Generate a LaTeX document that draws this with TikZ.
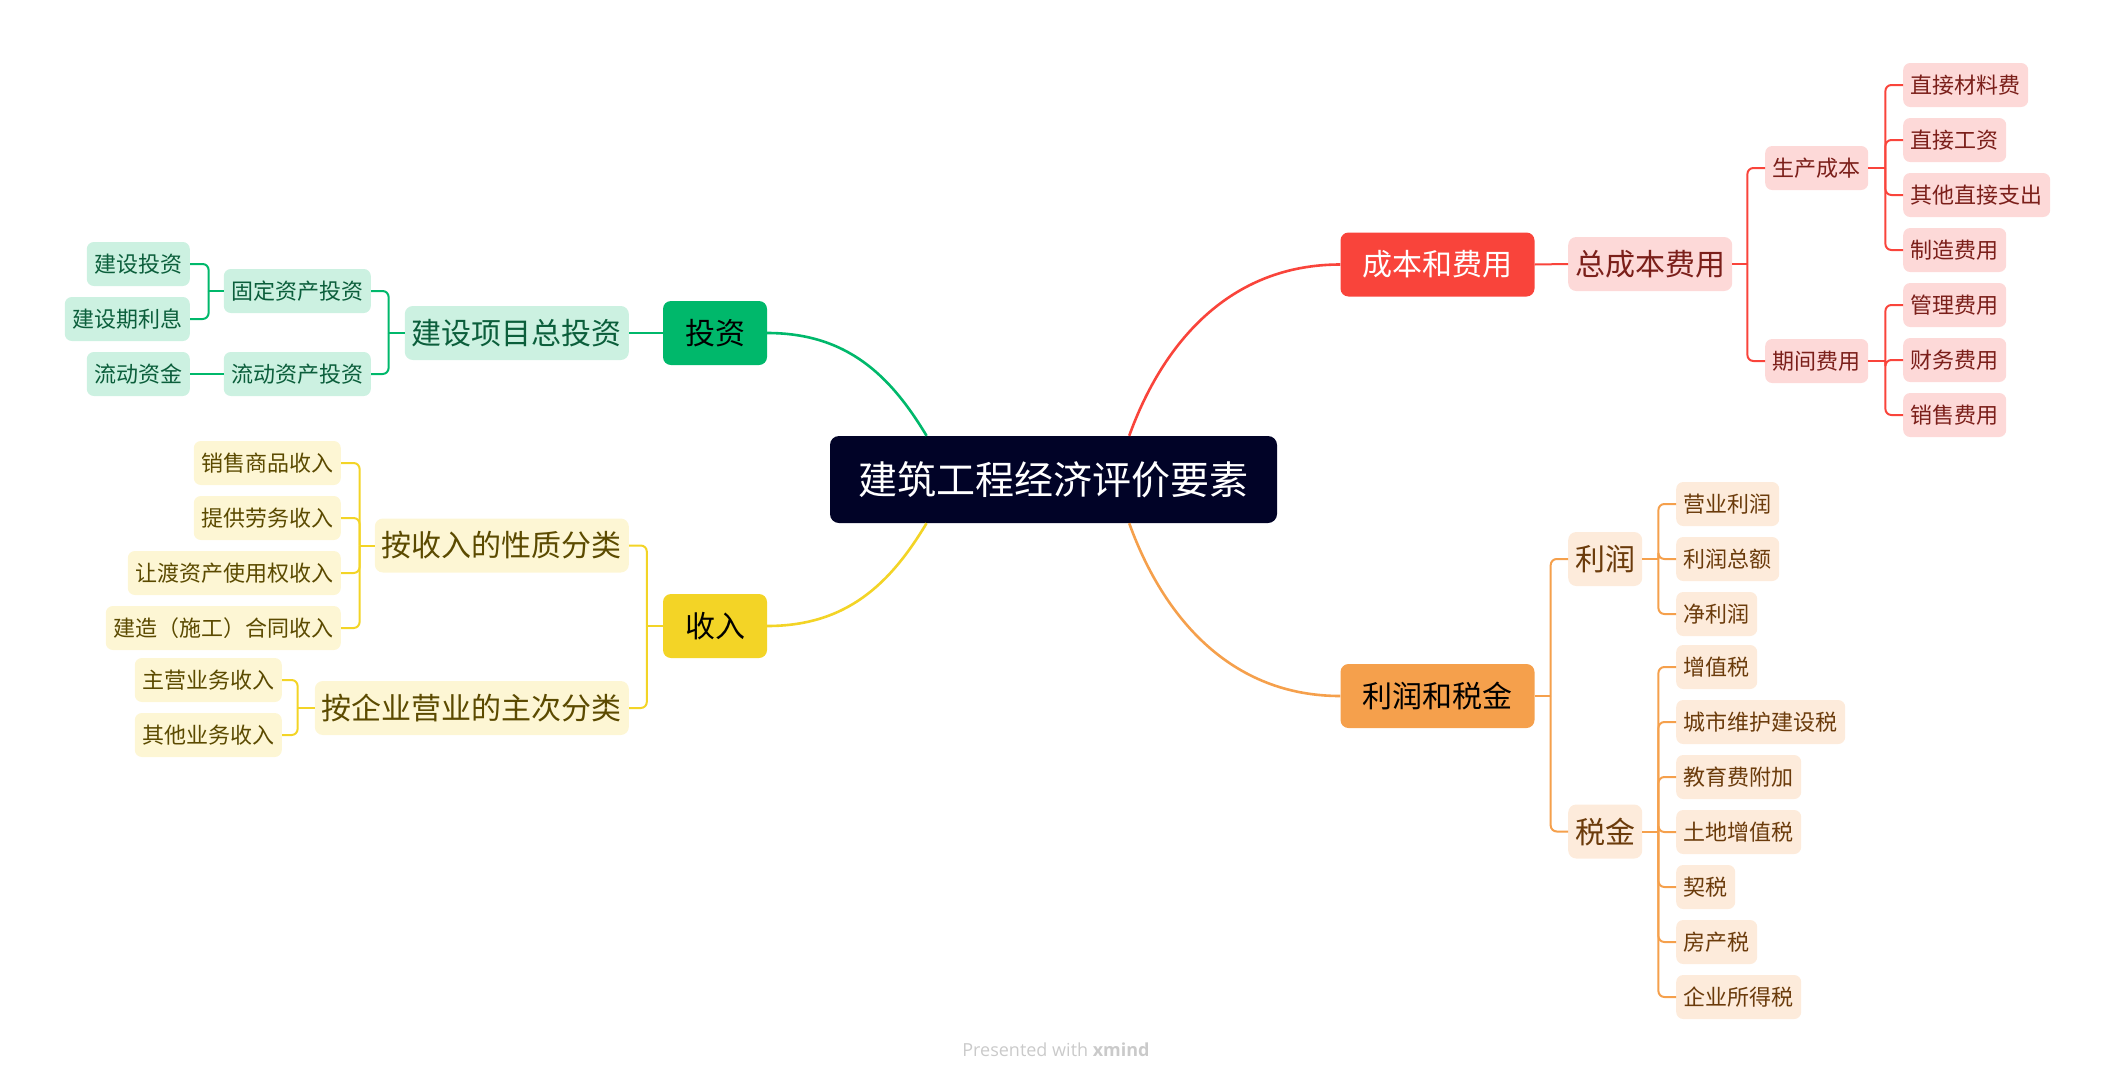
\documentclass[tikz,border=0pt]{standalone}
\usepackage{fontspec}
\usepackage{xcolor}
\setmainfont{Noto Sans CJK SC}
\newfontfamily\footfont{Open Sans}

\definecolor{rootbg}{HTML}{010327}
\definecolor{grn}{HTML}{00B86B}
\definecolor{grnlt}{HTML}{CCF1E1}
\definecolor{grntx}{HTML}{0B5E3B}
\definecolor{ylw}{HTML}{F3D426}
\definecolor{ylwlt}{HTML}{FDF6D4}
\definecolor{ylwtx}{HTML}{5B4A00}
\definecolor{rd}{HTML}{F9443B}
\definecolor{rdlt}{HTML}{FDD9D8}
\definecolor{rdtx}{HTML}{7B1F1A}
\definecolor{org}{HTML}{F5A04C}
\definecolor{orglt}{HTML}{FDEBDB}
\definecolor{orgtx}{HTML}{6B3B0B}
\definecolor{foot}{HTML}{CACACA}

\begin{document}
\begin{tikzpicture}[
        x=1pt, y=-1pt, % one unit = one pixel of the map, y runs down
        % --- Box sizes per level ---
        rootbox/.style={fill=rootbg, text=white, minimum width=447pt,
            minimum height=87pt, inner ysep=0pt, rounded corners=9pt,
            font=\fontsize{39}{47}\selectfont},
        topbox/.style={minimum height=64pt, inner xsep=22pt, inner ysep=0pt,
            rounded corners=8pt, font=\fontsize{30}{36}\selectfont},
        midbox/.style={minimum height=54pt, inner xsep=7pt, inner ysep=0pt,
            rounded corners=8pt, font=\fontsize{30}{36}\selectfont},
        leafbox/.style={minimum height=44pt, inner xsep=7.5pt, inner ysep=0pt,
            rounded corners=7pt, font=\fontsize{22}{26}\selectfont},
        % --- Colours per branch ---
        gsub/.style={fill=grnlt, text=grntx},
        ysub/.style={fill=ylwlt, text=ylwtx},
        rsub/.style={fill=rdlt, text=rdtx},
        osub/.style={fill=orglt, text=orgtx},
        trunk/.style={line width=2.6pt},
        gline/.style={draw=grn, line width=2pt, rounded corners=6pt},
        yline/.style={draw=ylw, line width=2pt, rounded corners=6pt},
        rline/.style={draw=rd, line width=2pt, rounded corners=6pt},
        oline/.style={draw=org, line width=2pt, rounded corners=6pt}
    ]
    \useasboundingbox (0,0) rectangle (2115,1082);

    % ==================== 1. CENTRAL AND MAIN TOPICS ====================
    \node[rootbox] (root) at (1053.5,479.5) {建筑工程经济评价要素};

    \node[topbox, fill=grn]             (touzi)    at (715,333)    {投资};
    \node[topbox, fill=ylw]             (shouru)   at (715,626)    {收入};
    \node[topbox, fill=rd, text=white]  (chengben) at (1437.5,264.5) {成本和费用};
    \node[topbox, fill=org]             (lirunsj)  at (1437.5,696) {利润和税金};

    % ==================== 2. INVESTMENT (LEFT, TOP) ====================
    \node[midbox, gsub, anchor=east]  (jszt) at (629,333) {建设项目总投资};
    \node[leafbox, gsub, anchor=east] (gdzc) at (371,291) {固定资产投资};
    \node[leafbox, gsub, anchor=east] (ldzc) at (371,374) {流动资产投资};
    \node[leafbox, gsub, anchor=east] (jstz) at (190,264) {建设投资};
    \node[leafbox, gsub, anchor=east] (jsql) at (190,319) {建设期利息};
    \node[leafbox, gsub, anchor=east] (ldzj) at (190,374) {流动资金};

    % ==================== 3. INCOME (LEFT, BOTTOM) ====================
    \node[midbox, ysub, anchor=east]  (xzfl) at (629,545.5) {按收入的性质分类};
    \node[midbox, ysub, anchor=east]  (zcfl) at (629,708)   {按企业营业的主次分类};
    \node[leafbox, ysub, anchor=east] (xssp) at (341,463) {销售商品收入};
    \node[leafbox, ysub, anchor=east] (tglw) at (341,518) {提供劳务收入};
    \node[leafbox, ysub, anchor=east] (rdzc) at (341,573) {让渡资产使用权收入};
    \node[leafbox, ysub, anchor=east] (jzht) at (341,628) {建造（施工）合同收入};
    \node[leafbox, ysub, anchor=east] (zyyw) at (282,680) {主营业务收入};
    \node[leafbox, ysub, anchor=east] (qtyw) at (282,735) {其他业务收入};

    % ==================== 4. COSTS (RIGHT, TOP) ====================
    \node[midbox, rsub, anchor=west]  (zcbfy) at (1568,264) {总成本费用};
    \node[leafbox, rsub, anchor=west] (sccb)  at (1765,168) {生产成本};
    \node[leafbox, rsub, anchor=west] (qjfy)  at (1765,361) {期间费用};
    \node[leafbox, rsub, anchor=west] (zjcl)  at (1903,85)  {直接材料费};
    \node[leafbox, rsub, anchor=west] (zjgz)  at (1903,140) {直接工资};
    \node[leafbox, rsub, anchor=west] (qtzc)  at (1903,195) {其他直接支出};
    \node[leafbox, rsub, anchor=west] (zzfy)  at (1903,250) {制造费用};
    \node[leafbox, rsub, anchor=west] (glfy)  at (1903,305) {管理费用};
    \node[leafbox, rsub, anchor=west] (cwfy)  at (1903,360) {财务费用};
    \node[leafbox, rsub, anchor=west] (xsfy)  at (1903,415) {销售费用};

    % ==================== 5. PROFIT AND TAX (RIGHT, BOTTOM) ====================
    \node[midbox, osub, anchor=west]  (lr)   at (1568,559)   {利润};
    \node[midbox, osub, anchor=west]  (sj)   at (1568,831.5) {税金};
    \node[leafbox, osub, anchor=west] (yylr) at (1676,504) {营业利润};
    \node[leafbox, osub, anchor=west] (lrze) at (1676,559) {利润总额};
    \node[leafbox, osub, anchor=west] (jlr)  at (1676,614) {净利润};
    \node[leafbox, osub, anchor=west] (zzs)  at (1676,667) {增值税};
    \node[leafbox, osub, anchor=west] (cswh) at (1676,722) {城市维护建设税};
    \node[leafbox, osub, anchor=west] (jyfj) at (1676,777) {教育费附加};
    \node[leafbox, osub, anchor=west] (tdzz) at (1676,832) {土地增值税};
    \node[leafbox, osub, anchor=west] (qs)   at (1676,887) {契税};
    \node[leafbox, osub, anchor=west] (fcs)  at (1676,942) {房产税};
    \node[leafbox, osub, anchor=west] (qysd) at (1676,997) {企业所得税};

    % ==================== 6. CONNECTORS ====================
    % Curved trunks out of the central topic
    \draw[trunk, grn] (root.161) .. controls +(-36,-60) and +(80,0) .. (touzi.east);
    \draw[trunk, ylw] (root.199) .. controls +(-36,60) and +(80,0) .. (shouru.east);
    \draw[trunk, rd]  (root.30)  .. controls +(34,-94) and +(-110,0) .. (chengben.west);
    \draw[trunk, org] (root.-30) .. controls +(34,94) and +(-110,0) .. (lirunsj.west);

    % Brackets, left side
    \draw[gline] (touzi.west) -- (jszt.east);
    \draw[gline] (jszt.west) -- ++(-16,0) coordinate (jszt-s);
    \foreach \c in {gdzc,ldzc} \draw[gline] (jszt-s) |- (\c.east);
    \draw[gline] (gdzc.west) -- ++(-15,0) coordinate (gdzc-s);
    \foreach \c in {jstz,jsql} \draw[gline] (gdzc-s) |- (\c.east);
    \draw[gline] (ldzc.west) -- (ldzj.east);

    \draw[yline] (shouru.west) -- ++(-16,0) coordinate (shouru-s);
    \foreach \c in {xzfl,zcfl} \draw[yline] (shouru-s) |- (\c.east);
    \draw[yline] (xzfl.west) -- ++(-15,0) coordinate (xzfl-s);
    \foreach \c in {xssp,tglw,rdzc,jzht} \draw[yline] (xzfl-s) |- (\c.east);
    \draw[yline] (zcfl.west) -- ++(-17,0) coordinate (zcfl-s);
    \foreach \c in {zyyw,qtyw} \draw[yline] (zcfl-s) |- (\c.east);

    % Brackets, right side
    \draw[rline] (chengben.east) -- (zcbfy.west);
    \draw[rline] (zcbfy.east) -- ++(15,0) coordinate (zcbfy-s);
    \foreach \c in {sccb,qjfy} \draw[rline] (zcbfy-s) |- (\c.west);
    \draw[rline] (sccb.east) -- ++(17,0) coordinate (sccb-s);
    \foreach \c in {zjcl,zjgz,qtzc,zzfy} \draw[rline] (sccb-s) |- (\c.west);
    \draw[rline] (qjfy.east) -- ++(17,0) coordinate (qjfy-s);
    \foreach \c in {glfy,cwfy,xsfy} \draw[rline] (qjfy-s) |- (\c.west);

    \draw[oline] (lirunsj.east) -- ++(16,0) coordinate (lirunsj-s);
    \foreach \c in {lr,sj} \draw[oline] (lirunsj-s) |- (\c.west);
    \draw[oline] (lr.east) -- ++(16,0) coordinate (lr-s);
    \foreach \c in {yylr,lrze,jlr} \draw[oline] (lr-s) |- (\c.west);
    \draw[oline] (sj.east) -- ++(16,0) coordinate (sj-s);
    \foreach \c in {zzs,cswh,jyfj,tdzz,qs,fcs,qysd} \draw[oline] (sj-s) |- (\c.west);

    % Footer
    \node[text=foot, font=\footfont\fontsize{18}{22}\selectfont] (credit) at (1056,1050)
        {Presented with \textbf{xmind}};

\end{tikzpicture}
\end{document}
